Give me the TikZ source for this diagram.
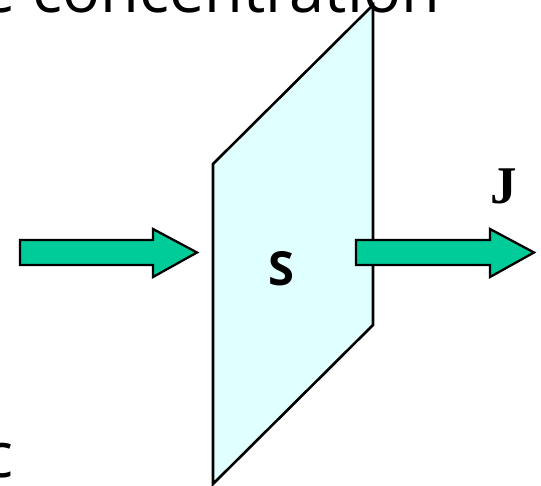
\documentclass[tikz,border=0pt]{standalone}
\usepackage{fontspec}
\setmainfont{Open Sans}
\newfontfamily\serifbold{Liberation Serif}
\definecolor{platefill}{RGB}{224,255,255}
\definecolor{fluxfill}{RGB}{0,204,153}
\tikzset{
  plate/.style={draw=black, line width=2.6pt, fill=platefill, line join=miter},
  fluxarrow/.style={draw=black, line width=2.3pt, fill=fluxfill, line join=miter},
  bigtext/.style={inner sep=0pt, font=\fontsize{63}{63}\selectfont},
  midtext/.style={inner sep=0pt, font=\bfseries\fontsize{47}{47}\selectfont},
  jtext/.style={inner sep=0pt, font=\serifbold\bfseries\fontsize{53}{53}\selectfont}
}
\begin{document}
\begin{tikzpicture}[x=1pt,y=-1pt]
\useasboundingbox (0,0) rectangle (541,486);
\node[bigtext, anchor=base east] (title) at (440,13) {e concentration};
\node[bigtext, anchor=base east] (cbottom) at (14,477) {c};
\draw[plate] (213,164) coordinate (tl) -- (373,5) coordinate (tr) -- (373,325) coordinate (br) -- (213,484) coordinate (bl) -- cycle;
\draw[fluxarrow] (20,240) -- (153,240) -- (153,229) -- (197,252.5) -- (153,277) -- (153,265) -- (20,265) -- cycle;
\draw[fluxarrow] (356,240) -- (490,240) -- (490,229) -- (534,252.5) -- (490,277) -- (490,265) -- (356,265) -- cycle;
\node[midtext, anchor=base] (S) at (281,286) {S};
\node[jtext, anchor=base] (J) at (504,204) {J};
\end{tikzpicture}
\end{document}
